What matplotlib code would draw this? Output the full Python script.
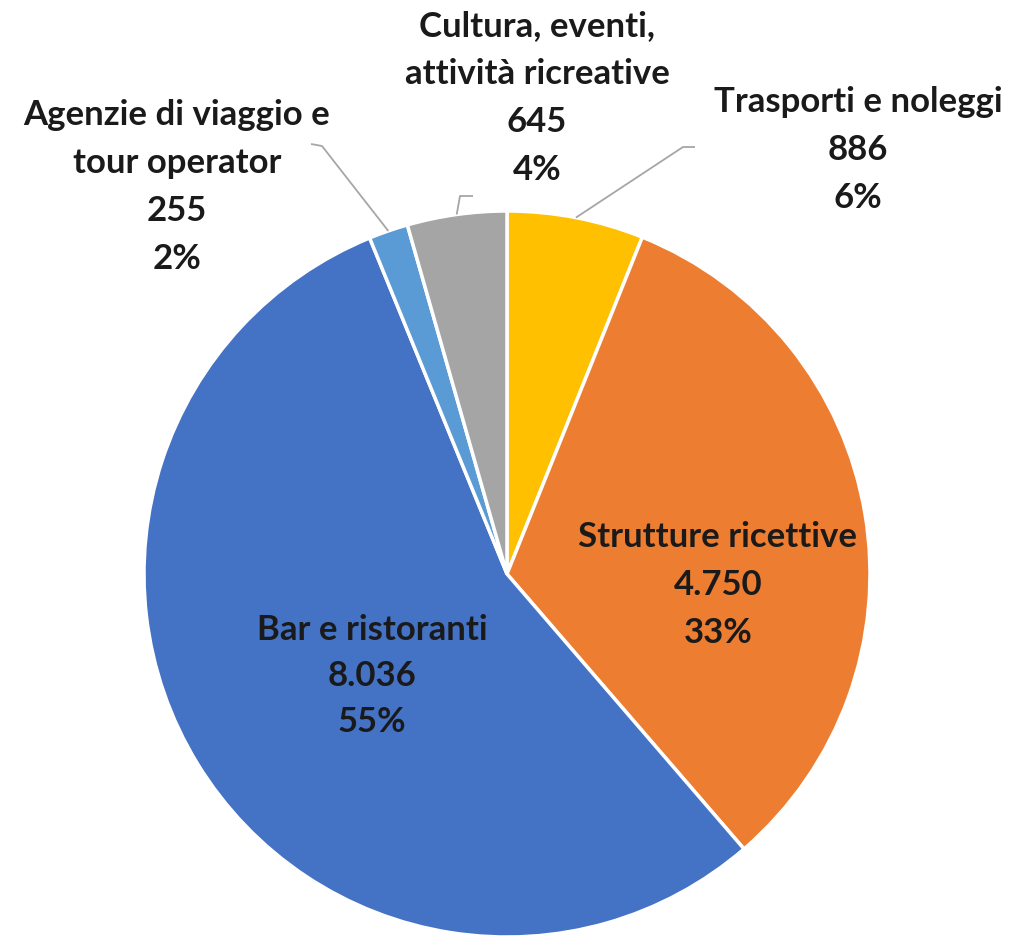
import numpy as np
import matplotlib
matplotlib.use("Agg")
import matplotlib.pyplot as plt

categories = ["Trasporti e noleggi", "Strutture ricettive", "Bar e ristoranti",
              "Agenzie di viaggio e\ntour operator", "Cultura, eventi,\nattività ricreative"]
values = [886, 4750, 8036, 255, 645]
value_labels = ["886", "4.750", "8.036", "255", "645"]
percent_labels = ["6%", "33%", "55%", "2%", "4%"]
colors = ["#FFC000", "#ED7D31", "#4472C4", "#5B9BD5", "#A5A5A5"]

W, H = 1024, 936
fig = plt.figure(figsize=(W / 100, H / 100), dpi=100)
ax = fig.add_axes([0, 0, 1, 1])
ax.set_xlim(0, W)
ax.set_ylim(0, H)
ax.set_aspect("equal")
ax.axis("off")

cx, cy, R = 507, H - 574, 363
wedges, _ = ax.pie(values, colors=colors, startangle=90, counterclock=False,
                   center=(cx, cy), radius=R,
                   wedgeprops=dict(edgecolor="white", linewidth=2.5))
ax.set_xlim(0, W)
ax.set_ylim(0, H)

font = dict(family=["Lato", "DejaVu Sans"], fontweight="bold", fontsize=25,
            color="#1a1a1a", ha="center", va="center", linespacing=1.62)

# label text positions (pixel coords, top-down) for each category
label_pos = [(858, 150), (718, 585), (372, 676), (177, 187), (537, 98)]
spacing = [1.62, 1.62, 1.52, 1.62, 1.62]
for i, (lx, ly) in enumerate(label_pos):
    txt = f"{categories[i]}\n{value_labels[i]}\n{percent_labels[i]}"
    f = dict(font)
    f["linespacing"] = spacing[i]
    ax.text(lx, H - ly, txt, **f)

# leader lines for the outside labels: (index, elbow, end)
leaders = [(0, (683, 147), (695, 147)), (3, (322, 146), (311, 144)), (4, (460, 196), (473, 196))]
for idx, elbow, end in leaders:
    w = wedges[idx]
    ang = np.deg2rad((w.theta1 + w.theta2) / 2)
    px, py = cx + R * np.cos(ang), cy + R * np.sin(ang)
    ax.plot([px, elbow[0], end[0]], [py, H - elbow[1], H - end[1]],
            color="#a6a6a6", linewidth=1.3, solid_capstyle="butt")

fig.savefig("out.png", dpi=100, facecolor="white")
